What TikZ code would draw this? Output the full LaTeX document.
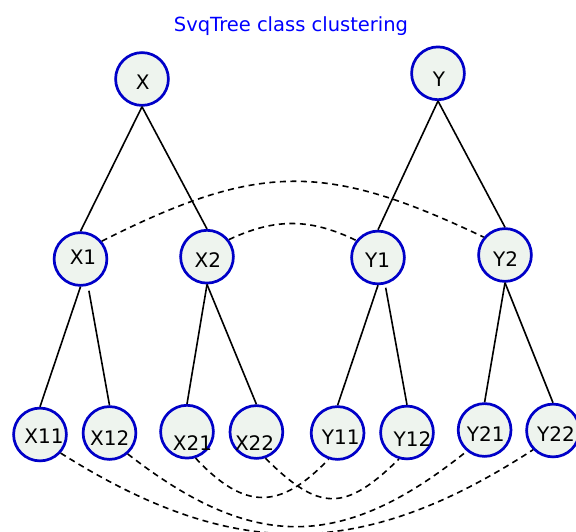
\documentclass[tikz,border=0pt]{standalone}
\usepackage{fontspec}
\setmainfont{DejaVu Sans}
\definecolor{nodefill}{RGB}{238,244,238}
\definecolor{nodeedge}{RGB}{0,0,200}
\definecolor{titleblue}{RGB}{0,0,255}
\tikzset{
  cnode/.style={circle, draw=nodeedge, fill=nodefill, line width=2.7pt, minimum size=52.8pt, inner sep=0pt},
  lbl/.style={anchor=base, font=\fontsize{20}{24}\selectfont, inner sep=0pt},
  treeedge/.style={line width=1.6pt, black},
  link/.style={line width=1.6pt, black, dash pattern=on 6pt off 4.5pt},
}
\begin{document}
\begin{tikzpicture}[x=1pt,y=-1pt]
\useasboundingbox (0,0) rectangle (576,532);
% title
\node[anchor=base, font=\fontsize{19.5}{23}\selectfont, text=titleblue, inner sep=0pt] (title) at (291,32) {SvqTree class clustering};
% circles
\node[cnode] (X) at (142,79) {};
\node[cnode] (Y) at (438,73.3) {};
\node[cnode] (X1) at (80.5,259) {};
\node[cnode] (X2) at (207,256.7) {};
\node[cnode] (Y1) at (378,257.5) {};
\node[cnode] (Y2) at (505,255) {};
\node[cnode] (X11) at (40,434.5) {};
\node[cnode] (X12) at (109.5,433) {};
\node[cnode] (X21) at (187,431.7) {};
\node[cnode] (X22) at (256.4,432) {};
\node[cnode] (Y11) at (337.6,433) {};
\node[cnode] (Y12) at (407,432.5) {};
\node[cnode] (Y21) at (484.6,430) {};
\node[cnode] (Y22) at (553,430.5) {};
% labels
\node[lbl] (tX) at (142.8,90) {X};
\node[lbl] (tY) at (439,86.7) {Y};
\node[lbl] (tX1) at (83,264) {X1};
\node[lbl] (tX2) at (207.8,267.3) {X2};
\node[lbl] (tY1) at (377.5,267.3) {Y1};
\node[lbl] (tY2) at (505.5,266) {Y2};
\node[lbl] (tX11) at (44,443.3) {X11};
\node[lbl] (tX12) at (109.7,445) {X12};
\node[lbl] (tX21) at (192.5,450) {X21};
\node[lbl] (tX22) at (254.6,450) {X22};
\node[lbl] (tY11) at (340.7,444) {Y11};
\node[lbl] (tY12) at (412.4,446) {Y12};
\node[lbl] (tY21) at (485.8,441.7) {Y21};
\node[lbl] (tY22) at (556,441.7) {Y22};
% tree edges
\draw[treeedge] (X.south) -- (X1.north);
\draw[treeedge] (X.south) -- (X2.north);
\draw[treeedge] (Y.south) -- (Y1.north);
\draw[treeedge] (Y.south) -- (Y2.north);
\draw[treeedge] (X1.south) -- (X11.north);
\draw[treeedge] ([shift={(8.4,4)}]X1.south) -- (X12.north);
\draw[treeedge] (X2.south) -- (X21.north);
\draw[treeedge] (X2.south) -- (X22.north);
\draw[treeedge] (Y1.south) -- (Y11.north);
\draw[treeedge] ([shift={(7.7,2.5)}]Y1.south) -- (Y12.north);
\draw[treeedge] (Y2.south) -- (Y21.north);
\draw[treeedge] (Y2.south) -- (Y22.north);
% cluster links
\draw[link] (X1.40) .. controls (259,162) and (326,162) .. (Y2.140);
\draw[link] (X2.38) .. controls (275,218) and (310,218) .. (Y1.142);
\draw[link] (X21.-72) .. controls (244.4,510.4) and (279.8,510.4) .. (Y11.-109);
\draw[link] (X22.-71) .. controls (319.4,512) and (345,512) .. (Y12.-107);
\draw[link] (X12.-49) .. controls (252.7,551.4) and (341.8,551.4) .. (Y21.-130);
\draw[link] (X11.-42) .. controls (232.6,561.5) and (361,561.5) .. (Y22.-136);
\end{tikzpicture}
\end{document}
